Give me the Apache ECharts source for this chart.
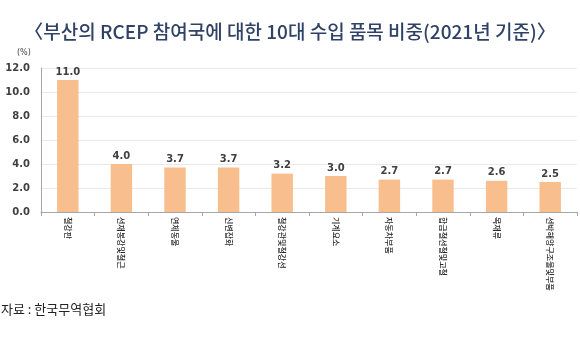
<!DOCTYPE html>
<html>
<head>
<meta charset="utf-8">
<script src="https://cdn.jsdelivr.net/npm/echarts@6/dist/echarts.min.js"></script>
<style>
  html, body { margin: 0; padding: 0; background: #ffffff; }
  #chart { width: 580px; height: 350px; }
</style>
</head>
<body>
<div id="chart"></div>
<script>
// 부산의 RCEP 참여국 대상 10대 수입 품목 비중 (2021년, %)
const titleText = '〈부산의 RCEP 참여국에 대한 10대 수입 품목 비중(2021년 기준)〉';
const sourceText = '자료 : 한국무역협회';
const unitText = '(%)';
const categories = ['철강판', '선재봉강및철근', '연체동물', '신변잡화', '철강관및철강선', '기계요소', '자동차부품', '합금철선철및고철', '목재류', '선박해양구조물및부품'];
const shares = [11.0, 4.0, 3.7, 3.7, 3.2, 3.0, 2.7, 2.7, 2.6, 2.5];
const yTicks = [0, 2, 4, 6, 8, 10, 12];

const chart = echarts.init(document.getElementById('chart'), null, { renderer: 'canvas' });

const option = {
  backgroundColor: '#ffffff',
  animation: false,
  graphic: [
    {
      type: 'text', left: 'center', top: 22,
      style: { text: titleText, fontSize: 19, fontFamily: 'Noto Sans CJK KR', fill: '#2f4266', fontWeight: 500 }
    },
    {
      type: 'text', left: 17, top: 49,
      style: { text: unitText, fontSize: 8, fontFamily: 'DejaVu Sans', fill: '#444' }
    },
    {
      type: 'text', left: 1, top: 303,
      style: { text: sourceText, fontSize: 13, fontFamily: 'Noto Sans CJK KR', fill: '#222' }
    }
  ],
  grid: { left: 41, right: 3, top: 68, bottom: 138, containLabel: false },
  xAxis: {
    type: 'category',
    data: categories,
    axisLine: { lineStyle: { color: '#a6a6a6', width: 1 } },
    axisTick: { show: true, interval: 0, length: 4, lineStyle: { color: '#a6a6a6' } },
    axisLabel: {
      interval: 0, rotate: -90, margin: 5,
      fontSize: 8, fontFamily: 'Noto Sans CJK KR', color: '#2a2a2a', fontWeight: 500
    }
  },
  yAxis: {
    type: 'value',
    min: yTicks[0], max: yTicks[yTicks.length - 1], interval: 2,
    axisLine: { show: true, lineStyle: { color: '#a6a6a6', width: 1 } },
    axisTick: { show: false },
    splitLine: { lineStyle: { color: '#e8e8e8', width: 1 } },
    axisLabel: {
      margin: 11, fontSize: 10, fontFamily: 'DejaVu Sans', color: '#404040', fontWeight: 'bold',
      formatter: v => v.toFixed(1)
    }
  },
  series: [{
    type: 'bar',
    data: shares,
    barWidth: '40%',
    itemStyle: { color: '#f8be8d' },
    label: {
      show: true, position: 'top', distance: 3,
      fontSize: 10, fontFamily: 'DejaVu Sans', color: '#404040', fontWeight: 'bold',
      formatter: p => p.value.toFixed(1)
    }
  }]
};

chart.setOption(option);
</script>
</body>
</html>
